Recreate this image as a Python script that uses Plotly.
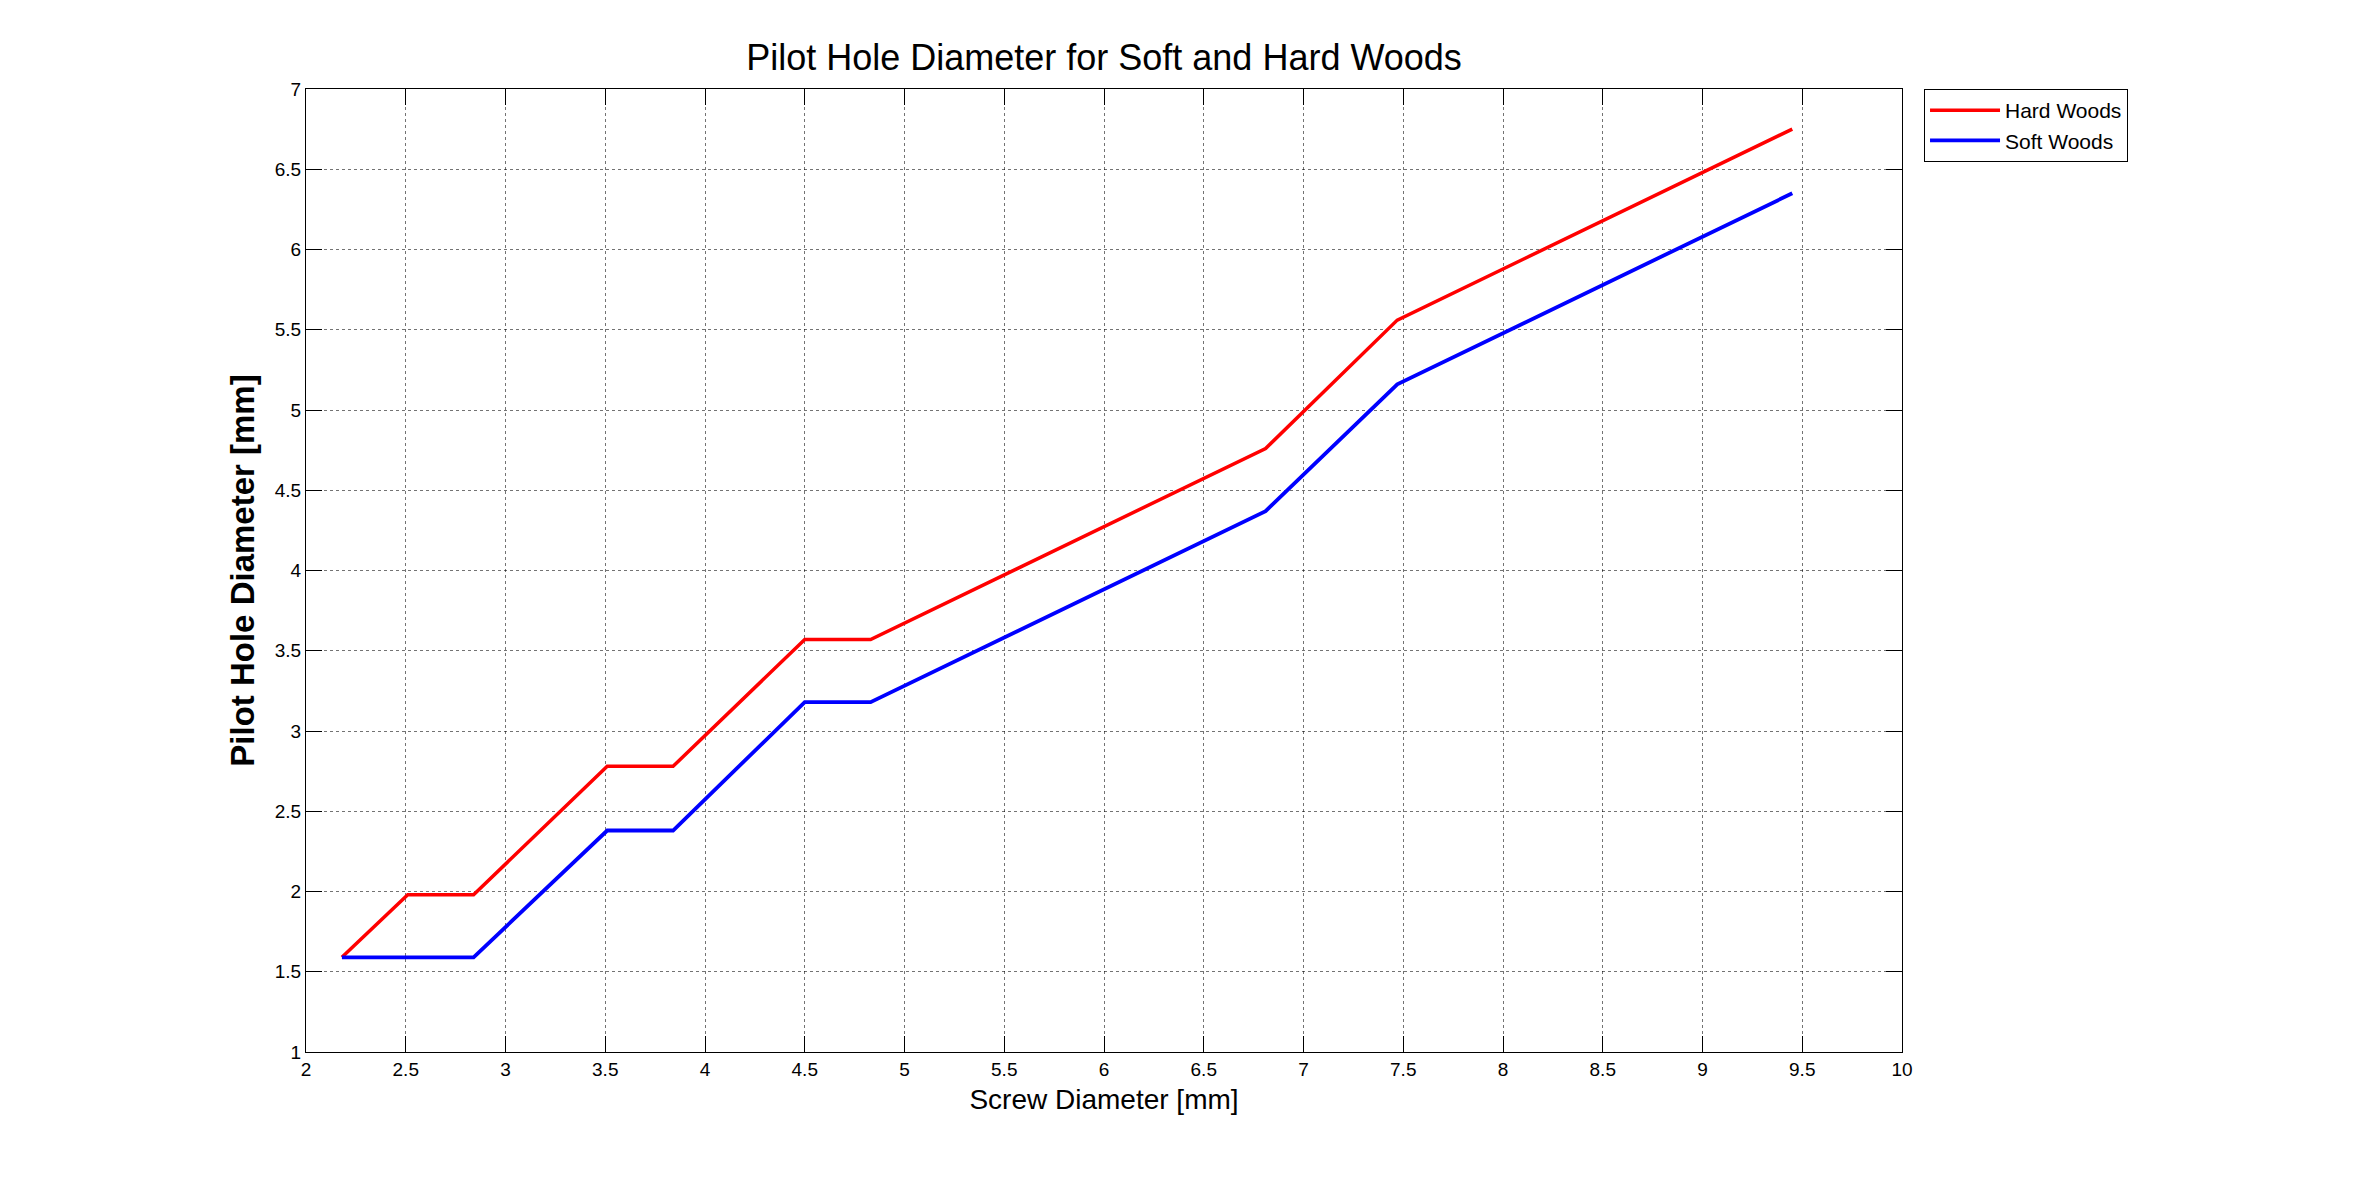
import plotly.graph_objects as go

# screw diameter [mm] vs pilot hole diameter [mm]
hard_x = [2.18, 2.51, 2.84, 3.51, 3.84, 4.50, 4.83, 6.81, 7.47, 9.45]
hard_y = [1.59, 1.98, 1.98, 2.78, 2.78, 3.57, 3.57, 4.76, 5.56, 6.75]

soft_x = [2.18, 2.51, 2.84, 3.51, 3.84, 4.50, 4.83, 6.81, 7.47, 9.45]
soft_y = [1.59, 1.59, 1.59, 2.38, 2.38, 3.18, 3.18, 4.37, 5.16, 6.35]

FONT = "Arial, Liberation Sans, Helvetica, sans-serif"

# page body has an 8px margin, so the figure is slightly smaller than the window
W, H = 2348, 1166

fig = go.Figure()
fig.add_trace(go.Scatter(x=hard_x, y=hard_y, mode="lines", name="Hard Woods",
                         line=dict(color="#ff0000", width=3.5)))
fig.add_trace(go.Scatter(x=soft_x, y=soft_y, mode="lines", name="Soft Woods",
                         line=dict(color="#0000ff", width=3.8)))

axis_common = dict(
    showline=True, linecolor="black", linewidth=1, mirror="ticks",
    ticks="inside", ticklen=16, tickcolor="black", tickwidth=1,
    showgrid=True, gridcolor="rgba(0,0,0,0.55)", griddash="dot", gridwidth=1,
    zeroline=False, tickfont=dict(family=FONT, size=19, color="black"),
)

fig.update_xaxes(range=[2, 10], dtick=0.5, tick0=2, **axis_common,
                 title=dict(text="Screw Diameter [mm]", standoff=10,
                            font=dict(family=FONT, size=28, color="black")))
fig.update_yaxes(range=[1, 7], dtick=0.5, tick0=1, **axis_common,
                 title=dict(text="Pilot Hole Diameter [mm]", standoff=10,
                            font=dict(family=FONT, size=33, color="black", weight="bold")))

fig.update_layout(
    width=W, height=H,
    margin=dict(l=298, r=454, t=81, b=122),
    paper_bgcolor="white", plot_bgcolor="white",
    title=dict(text="Pilot Hole Diameter for Soft and Hard Woods",
               x=1096 / W, xanchor="center", y=1 - 49 / H, yanchor="middle",
               font=dict(family=FONT, size=36, color="black")),
    legend=dict(x=1.0138, xanchor="left", y=1, yanchor="top",
                bordercolor="black", borderwidth=1, bgcolor="white",
                font=dict(family=FONT, size=21, color="black"),
                itemwidth=70, tracegroupgap=0),
    showlegend=True,
)

fig.write_html("out.html")
